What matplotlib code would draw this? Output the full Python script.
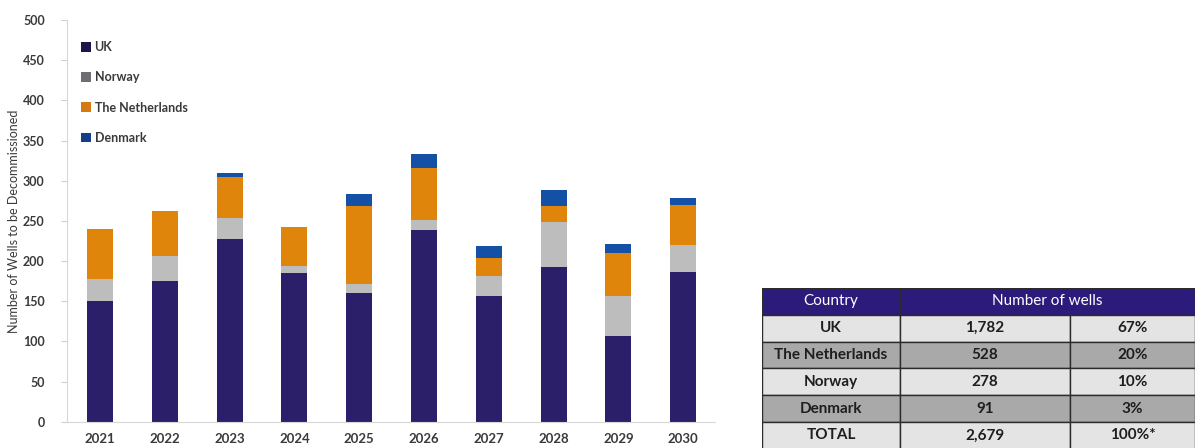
import numpy as np
import matplotlib.pyplot as plt
from matplotlib.patches import Rectangle, Patch

plt.rcParams['font.family'] = ['Lato', 'DejaVu Sans']

# Wells to be decommissioned per year, stacked by country
years = ['2021', '2022', '2023', '2024', '2025', '2026', '2027', '2028', '2029', '2030']
uk = [150, 175, 227, 185, 160, 239, 156, 193, 107, 186]
norway = [28, 31, 26, 9, 12, 12, 25, 56, 50, 34]
netherlands = [62, 56, 52, 48, 97, 65, 23, 20, 53, 50]
denmark = [0, 0, 5, 0, 15, 17, 15, 19, 11, 9]

# Summary table
tbl_country = ['UK', 'The Netherlands', 'Norway', 'Denmark', 'TOTAL']
tbl_wells = ['1,782', '528', '278', '91', '2,679']
tbl_share = ['67%', '20%', '10%', '3%', '100%*']

bar_colors = ['#2a1f68', '#bdbdbd', '#e0850c', '#1450a6']
legend_colors = ['#1c1548', '#6e6e74', '#d47a12', '#123f8a']
labels = ['UK', 'Norway', 'The Netherlands', 'Denmark']
text_col = '#3a3a3a'

fig = plt.figure(figsize=(11.96, 4.48), dpi=100)
ax = fig.add_axes([67 / 1196, 1 - 421.7 / 448, (715 - 67) / 1196, (421.7 - 20) / 448])

x = np.arange(len(years))
bottom = np.zeros(len(years))
for vals, col in zip([uk, norway, netherlands, denmark], bar_colors):
    ax.bar(x, vals, 0.4, bottom=bottom, color=col, edgecolor='none')
    bottom += np.array(vals)

ax.set_xlim(-0.51, 9.49)
ax.set_ylim(0, 500)
ax.set_yticks(range(0, 501, 50))
ax.set_xticks(x)
ax.set_xticklabels(years)
ax.tick_params(axis='y', length=4, color='#d0d0d0', labelsize=9, labelcolor=text_col, pad=12)
ax.tick_params(axis='x', length=0, labelsize=9.5, labelcolor=text_col, pad=8)
for t in ax.get_xticklabels() + ax.get_yticklabels():
    t.set_fontweight('bold')
for s in ['top', 'right']:
    ax.spines[s].set_visible(False)
ax.spines['left'].set_color('#d8d8d8')
ax.spines['bottom'].set_color('#d8d8d8')
ax.set_ylabel('Number of Wells to be Decommissioned', fontsize=9, color=text_col)
ax.yaxis.set_label_coords(-0.073, 0.5)

handles = [Patch(facecolor=c, edgecolor='none') for c in legend_colors]
leg = ax.legend(handles, labels, loc='upper left', bbox_to_anchor=(0.005, 0.975), frameon=False,
                handlelength=0.8, handleheight=0.8, handletextpad=0.25,
                labelspacing=1.45, prop={'weight': 'bold', 'size': 9})
for t in leg.get_texts():
    t.set_color(text_col)

# Table drawn in its own axes, pixel-like units
tax = fig.add_axes([762 / 1196, 0, (1195 - 762) / 1196, (448 - 288) / 448])
tax.set_xlim(762, 1195)
tax.set_ylim(448, 288)
tax.axis('off')

row_h = 26.8
cols = [762, 900, 1070, 1195]
edge = '#2b2b2b'
tax.add_patch(Rectangle((762, 288), 1195 - 762, row_h, facecolor='#2d1b7c', edgecolor=edge, lw=1))
tax.text((762 + 900) / 2, 288 + row_h / 2, 'Country', color='white', fontsize=11,
         ha='center', va='center')
tax.text((900 + 1195) / 2, 288 + row_h / 2, 'Number of wells', color='white', fontsize=11,
         ha='center', va='center')
tax.plot([900, 900], [288, 288 + row_h], color=edge, lw=1)

for i in range(len(tbl_country)):
    y0 = 288 + row_h * (i + 1)
    fc = '#e4e4e4' if i % 2 == 0 else '#a9a9a9'
    cells = [tbl_country[i], tbl_wells[i], tbl_share[i]]
    for j in range(3):
        tax.add_patch(Rectangle((cols[j], y0), cols[j + 1] - cols[j], row_h,
                                facecolor=fc, edgecolor=edge, lw=1))
        tax.text((cols[j] + cols[j + 1]) / 2, y0 + row_h / 2, cells[j], color='#1e1e1e',
                 fontsize=11, fontweight='bold', ha='center', va='center')

fig.savefig('out.png', dpi=100)
